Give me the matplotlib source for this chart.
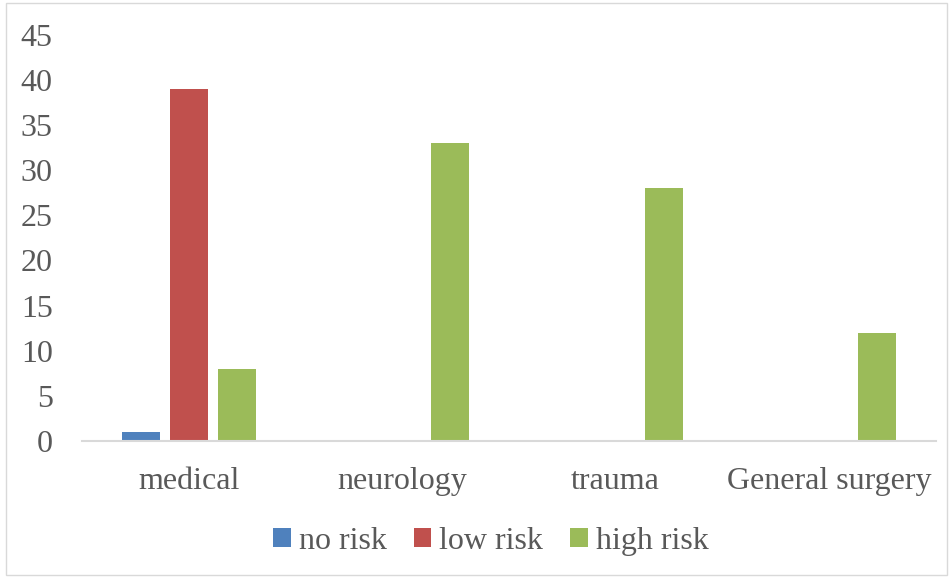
import matplotlib.pyplot as plt
import numpy as np
from matplotlib.patches import Rectangle

# data
categories = ["medical", "neurology", "trauma", "General surgery"]
no_risk = [1, 0, 0, 0]
low_risk = [39, 0, 0, 0]
high_risk = [8, 33, 28, 12]
series_names = ["no risk", "low risk", "high risk"]
colors = ["#4f81bd", "#c0504d", "#9bbb59"]

plt.rcParams['font.family'] = ['Liberation Serif', 'DejaVu Serif']

fig = plt.figure(figsize=(9.53, 5.78), dpi=100)
ax = fig.add_axes([0.086, 0.237, 0.896, 0.703])

# outer chart border
fig.patches.append(Rectangle((0.006, 0.006), 0.988, 0.988, transform=fig.transFigure,
                             fill=False, edgecolor="#d9d9d9", linewidth=1))

x = np.arange(len(categories))
width = 0.178
step = 0.225
for i, (vals, name, c) in enumerate(zip([no_risk, low_risk, high_risk], series_names, colors)):
    ax.bar(x + (i - 1) * step, vals, width, color=c, label=name)

ax.set_xlim(-0.5, len(categories) - 0.5)
ax.set_ylim(0, 45)
ax.set_yticks(range(0, 50, 5))
ax.set_xticks(x)
ax.set_xticklabels(categories)

for s in ["top", "right", "left"]:
    ax.spines[s].set_visible(False)
ax.spines["bottom"].set_color("#d9d9d9")
ax.spines["bottom"].set_linewidth(1.5)
ax.tick_params(axis="both", length=0, labelsize=23, labelcolor="#595959")
ax.tick_params(axis="y", pad=21)
ax.tick_params(axis="x", pad=19)

leg = ax.legend(loc="upper center", bbox_to_anchor=(0.479, -0.14), ncol=3, frameon=False,
                fontsize=23, handlelength=0.55, handleheight=0.55, handletextpad=0.25,
                columnspacing=0.85)
for t in leg.get_texts():
    t.set_color("#595959")

fig.savefig("out.png", dpi=100)
